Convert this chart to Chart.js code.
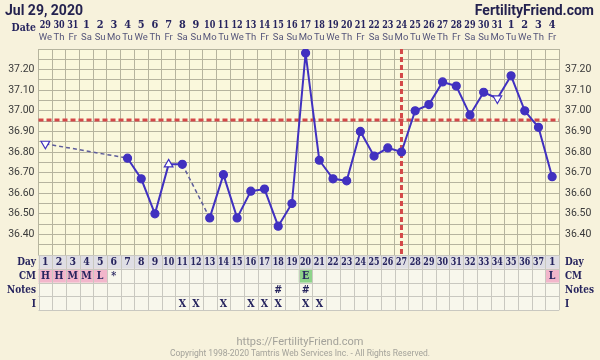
<!DOCTYPE html>
<html>
<head>
<meta charset="utf-8">
<script src="https://cdn.jsdelivr.net/npm/chart.js@4"></script>
<style>
  body { margin: 0; background: #f7f2dc; }
  #wrap { position: relative; width: 600px; height: 360px; overflow: hidden; }
  canvas { position: absolute; left: 0; top: 0; }
  .head { position: absolute; top: 2px; font: bold 14px Roboto, sans-serif; color: #24224f; }
  #title { left: 5px; }
  #site { right: 6px; }
  .foot { position: absolute; left: 0; width: 600px; text-align: center; font-family: Roboto, sans-serif; color: #a3a29a; }
  #url { top: 335px; font-size: 11px; }
  #copy { top: 348px; font-size: 8.5px; }
</style>
</head>
<body>
<div id="wrap">
  <canvas id="chart" width="600" height="360"></canvas>
  <div class="head" id="title">Jul 29, 2020</div>
  <div class="head" id="site">FertilityFriend.com</div>
  <div class="foot" id="url">https://FertilityFriend.com</div>
  <div class="foot" id="copy">Copyright 1998-2020 Tamtris Web Services Inc. - All Rights Reserved.</div>
</div>
<script>
// cycle days (last column is day 1 of next cycle)
const cycleDays = ['1','2','3','4','5','6','7','8','9','10','11','12','13','14','15','16','17','18','19','20',
  '21','22','23','24','25','26','27','28','29','30','31','32','33','34','35','36','37','1'];
const dates = ['29','30','31','1','2','3','4','5','6','7','8','9','10','11','12','13','14','15','16','17',
  '18','19','20','21','22','23','24','25','26','27','28','29','30','31','1','2','3','4'];
const weekdays = ['We','Th','Fr','Sa','Su','Mo','Tu','We','Th','Fr','Sa','Su','Mo','Tu','We','Th','Fr','Sa','Su','Mo',
  'Tu','We','Th','Fr','Sa','Su','Mo','Tu','We','Th','Fr','Sa','Su','Mo','Tu','We','Th','Fr'];

// temperatures (null = not recorded)
const temps = [36.84, null, null, null, null, null, 36.77, 36.67, 36.50, 36.74,
  36.74, null, 36.48, 36.69, 36.48, 36.61, 36.62, 36.44, 36.55, 37.28,
  36.76, 36.67, 36.66, 36.90, 36.78, 36.82, 36.80, 37.00, 37.03, 37.14,
  37.12, 36.98, 37.09, 37.06, 37.17, 37.00, 36.92, 36.68];

// open triangles (discarded temps): index -> direction
const openMarks = { 0: 'down', 9: 'up', 33: 'down' };

const coverline = 36.955;
const ovulationIndex = 26;

// table rows
const cm = ['H','H','M','M','L','*','','','','','','','','','','','','','','E',
  '','','','','','','','','','','','','','','','','','L'];
const notes = ['','','','','','','','','','','','','','','','','','#','','#',
  '','','','','','','','','','','','','','','','','',''];
const intercourse = ['','','','','','','','','','','X','X','','X','','X','X','X','','X',
  'X','','','','','','','','','','','','','','','','',''];

const lineColor = '#4131c0';
const gridColor = '#b6b49e';
const navy = '#26245e';
const slab = '"DejaVu Serif", serif';

function tickLabel(v) {
  const h = Math.round(v * 100);
  if (h % 10 !== 0 || h < 3640 || h > 3720) return '';
  return (h / 100).toFixed(2);
}

// narrow slab text: squeeze horizontally around its centre
function narrowText(ctx, t, x, y, sx) {
  ctx.save();
  ctx.translate(x, y);
  ctx.scale(sx, 1);
  ctx.fillText(t, 0, 0);
  ctx.restore();
}

const chartExtras = {
  id: 'chartExtras',
  beforeDraw(chart) {
    const { ctx, chartArea: a } = chart;
    ctx.save();
    ctx.fillStyle = '#faf8dc';
    ctx.fillRect(a.left, a.top, a.right - a.left, a.bottom - a.top);
    ctx.restore();
  },
  beforeDatasetsDraw(chart) {
    const { ctx, chartArea: a, scales } = chart;
    ctx.save();
    ctx.strokeStyle = '#d44848';
    ctx.lineWidth = 3;
    ctx.setLineDash([5, 3]);
    const cy = scales.y.getPixelForValue(coverline);
    ctx.beginPath();
    ctx.moveTo(a.left, cy);
    ctx.lineTo(a.right, cy);
    ctx.stroke();
    const ox = scales.x.getPixelForValue(ovulationIndex);
    ctx.beginPath();
    ctx.moveTo(ox, a.top);
    ctx.lineTo(ox, a.bottom);
    ctx.stroke();
    ctx.restore();
  },
  afterDraw(chart) {
    const { ctx, chartArea: a, scales } = chart;
    const x = scales.x;
    const colW = x.getPixelForValue(1) - x.getPixelForValue(0);
    const w = a.right - a.left;
    const rowH = 13.8;
    const top = a.bottom;
    ctx.save();

    // header: dates + weekdays
    ctx.fillStyle = navy;
    ctx.textAlign = 'right';
    ctx.textBaseline = 'middle';
    ctx.font = 'bold 11px ' + slab;
    narrowText(ctx, 'Date', 36, 28, 0.85);
    ctx.textAlign = 'center';
    dates.forEach((d, i) => {
      ctx.font = 'bold 11.5px ' + slab;
      ctx.fillStyle = navy;
      narrowText(ctx, d, x.getPixelForValue(i), 25, d.length > 1 ? 0.7 : 0.85);
      ctx.font = '9.5px Roboto, sans-serif';
      ctx.fillStyle = '#55557a';
      ctx.fillText(weekdays[i], x.getPixelForValue(i), 38);
    });

    // table backgrounds
    ctx.fillStyle = '#dfdee4';
    ctx.fillRect(a.left, top, w, rowH);
    ctx.fillStyle = '#f8f7ec';
    ctx.fillRect(a.left, top + rowH, w, rowH * 3);
    cm.forEach((c, i) => {
      if (c === 'H' || c === 'M' || c === 'L' || c === 'E') {
        ctx.fillStyle = c === 'E' ? '#8ed48a' : '#f2b6cb';
        ctx.fillRect(x.getPixelForValue(i) - colW / 2, top + rowH, colW, rowH);
      }
    });

    // table grid
    ctx.strokeStyle = '#c9c8c0';
    ctx.lineWidth = 1;
    ctx.beginPath();
    for (let r = 0; r <= 4; r++) {
      const yy = Math.round(top + r * rowH) + 0.5;
      ctx.moveTo(a.left, yy);
      ctx.lineTo(a.right, yy);
    }
    for (let i = 0; i <= cycleDays.length; i++) {
      const xx = Math.round(x.getPixelForValue(i) - colW / 2) + 0.5;
      ctx.moveTo(xx, top);
      ctx.lineTo(xx, top + rowH * 4);
    }
    ctx.stroke();

    // table texts
    ctx.fillStyle = navy;
    ctx.textBaseline = 'middle';
    ctx.textAlign = 'center';
    const rowsText = [cycleDays, cm, notes, intercourse];
    rowsText.forEach((row, r) => {
      const yy = top + rowH * r + rowH / 2 + 0.5;
      row.forEach((t, i) => {
        if (!t) return;
        ctx.font = (r === 0 ? 'bold 11px ' : 'bold 10.5px ') + slab;
        narrowText(ctx, t, x.getPixelForValue(i), yy, r === 0 ? (t.length > 1 ? 0.72 : 0.85) : 0.9);
      });
    });
    const rowNames = ['Day', 'CM', 'Notes', 'I'];
    ctx.font = 'bold 10.5px ' + slab;
    rowNames.forEach((n, r) => {
      const yy = top + rowH * r + rowH / 2 + 0.5;
      ctx.textAlign = 'right';
      narrowText(ctx, n, 36, yy, 0.85);
      ctx.textAlign = 'left';
      narrowText(ctx, n, a.right + 6, yy, 0.85);
    });
    ctx.restore();
  }
};

const isGap = c => c.p0.skip || c.p1.skip;

new Chart(document.getElementById('chart'), {
  type: 'line',
  data: {
    labels: cycleDays,
    datasets: [{
      data: temps,
      borderColor: lineColor,
      borderWidth: 2,
      spanGaps: true,
      pointRadius: c => openMarks[c.dataIndex] ? 5 : 4,
      pointStyle: c => openMarks[c.dataIndex] ? 'triangle' : 'circle',
      pointRotation: c => openMarks[c.dataIndex] === 'down' ? 180 : 0,
      pointBackgroundColor: c => openMarks[c.dataIndex] ? '#ffffff' : lineColor,
      pointBorderColor: lineColor,
      pointBorderWidth: 1.2,
      segment: {
        borderDash: c => isGap(c) ? [4, 3] : undefined,
        borderColor: c => isGap(c) ? '#5d5c9a' : undefined,
        borderWidth: c => isGap(c) ? 1.5 : undefined
      }
    }]
  },
  options: {
    responsive: false,
    animation: false,
    devicePixelRatio: 1,
    layout: { padding: { top: 49, left: 0, right: 0, bottom: 0 } },
    plugins: { legend: { display: false }, tooltip: { enabled: false } },
    scales: {
      x: {
        offset: true,
        grid: { offset: true, color: gridColor, drawTicks: false },
        border: { color: gridColor },
        ticks: { display: false },
        afterFit: s => { s.height = 105; }
      },
      y: {
        position: 'left',
        min: 36.3, max: 37.3,
        ticks: { stepSize: 0.05, autoSkip: false, padding: 4, color: '#3a3a3a',
          font: { family: 'Roboto', size: 10.5 }, callback: tickLabel },
        grid: { color: gridColor, drawTicks: false },
        border: { color: gridColor },
        afterFit: s => { s.width = 38.5; }
      },
      y2: {
        position: 'right',
        min: 36.3, max: 37.3,
        ticks: { stepSize: 0.05, autoSkip: false, padding: 6, color: '#3a3a3a',
          font: { family: 'Roboto', size: 10.5 }, callback: tickLabel },
        grid: { display: false, drawTicks: false },
        border: { color: gridColor },
        afterFit: s => { s.width = 41; }
      }
    }
  },
  plugins: [chartExtras]
});
</script>
</body>
</html>
